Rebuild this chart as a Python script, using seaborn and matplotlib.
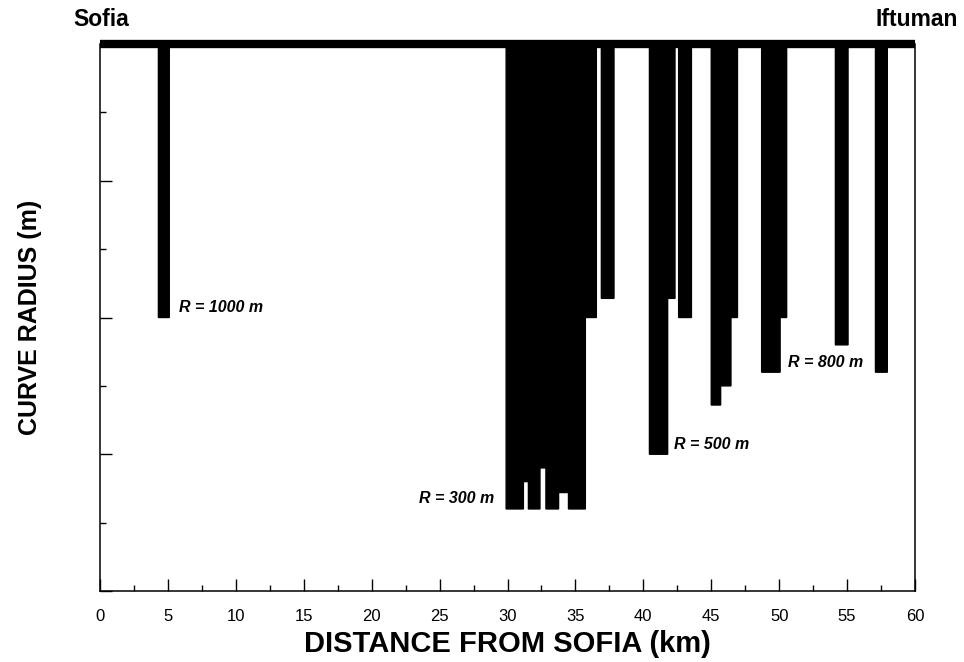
import matplotlib
matplotlib.use("Agg")
import matplotlib.pyplot as plt
from matplotlib.ticker import MultipleLocator, NullFormatter
import seaborn as sns

# Curve segments along the line: start/end chainage (km) and curve radius (m)
seg_start_km = [4.3, 29.9, 31.17, 31.54, 32.39, 32.83, 33.76, 34.49, 35.73,
                36.91, 40.45, 41.79, 42.6, 45.0, 45.69, 46.45, 48.71, 50.07,
                54.14, 57.09]
seg_end_km = [5.1, 31.17, 31.54, 32.39, 32.83, 33.76, 34.49, 35.73, 36.54,
              37.84, 41.79, 42.33, 43.54, 45.69, 46.45, 46.93, 50.07, 50.55,
              55.07, 57.96]
radius_m = [1000, 300, 400, 300, 450, 300, 360, 300, 1000,
            1070, 500, 1070, 1000, 680, 750, 1000, 800, 1000,
            900, 800]

# Radius annotations: (segment index, label text)
label_seg = [0, 1, 10, 16]
label_text = ["R = 1000 m", "R = 300 m", "R = 500 m", "R = 800 m"]

x_ticks = [0, 5, 10, 15, 20, 25, 30, 35, 40, 45, 50, 55, 60]
start_name, end_name = "Sofia", "Iftuman"

R_TOP = 2000  # straight track (no curvature) drawn as the top line

sns.set_theme(style="ticks")
plt.rcParams["font.family"] = ["Liberation Sans", "DejaVu Sans"]

fig = plt.figure(figsize=(9.64, 6.62), dpi=100)
ax = fig.add_axes([100 / 964, 1 - 591 / 662, 815 / 964, 547 / 662])

widths = [e - s for s, e in zip(seg_start_km, seg_end_km)]
heights = [R_TOP - r for r in radius_m]
ax.bar(seg_start_km, heights, width=widths, bottom=radius_m, align="edge",
       color="black", edgecolor="black", linewidth=1.0, snap=False, zorder=2)

ax.set_xlim(0, 60)
ax.set_ylim(0, R_TOP)

ax.set_xticks(x_ticks)
ax.xaxis.set_minor_locator(MultipleLocator(2.5))
ax.yaxis.set_major_locator(MultipleLocator(500))
ax.yaxis.set_minor_locator(MultipleLocator(250))
ax.yaxis.set_major_formatter(NullFormatter())

ax.tick_params(axis="both", which="major", direction="in", length=8.5,
               width=1.0, color="black", labelsize=12, labelcolor="black")
ax.tick_params(axis="both", which="minor", direction="in", length=4,
               width=1.0, color="black")
ax.tick_params(axis="x", which="major", pad=13)
ax.tick_params(axis="y", which="both", right=False)
ax.tick_params(axis="x", which="both", top=False)

for side in ["left", "bottom", "right"]:
    ax.spines[side].set_visible(True)
    ax.spines[side].set_linewidth(1.1)
    ax.spines[side].set_color("black")
ax.spines["top"].set_visible(True)
ax.spines["top"].set_linewidth(6)
ax.spines["top"].set_color("black")
ax.spines["top"].set_capstyle("butt")
ax.spines["top"].set_zorder(5)

ax.set_xlabel("DISTANCE FROM SOFIA (km)", fontsize=21, fontweight="bold",
              labelpad=4, color="black")
ax.set_ylabel("CURVE RADIUS (m)", fontsize=18, fontweight="bold",
              labelpad=38, color="black")

# Radius annotations next to their segments
offsets = {0: ("left", 0.7), 1: ("right", -0.9), 10: ("left", 0.45),
           16: ("left", 0.6)}
for idx, txt in zip(label_seg, label_text):
    ha, dx = offsets[idx]
    xpos = (seg_end_km[idx] if ha == "left" else seg_start_km[idx]) + dx
    ax.text(xpos, radius_m[idx] + 37, txt, ha=ha, va="center",
            fontsize=11.5, fontweight="bold", fontstyle="italic", color="black")

fig.text(73 / 964, 1 - 20 / 662, start_name, ha="left", va="center",
         fontsize=16.5, fontweight="bold", color="black")
fig.text(958 / 964, 1 - 20 / 662, end_name, ha="right", va="center",
         fontsize=16.5, fontweight="bold", color="black")

fig.savefig("out.png", dpi=100, facecolor="white")
